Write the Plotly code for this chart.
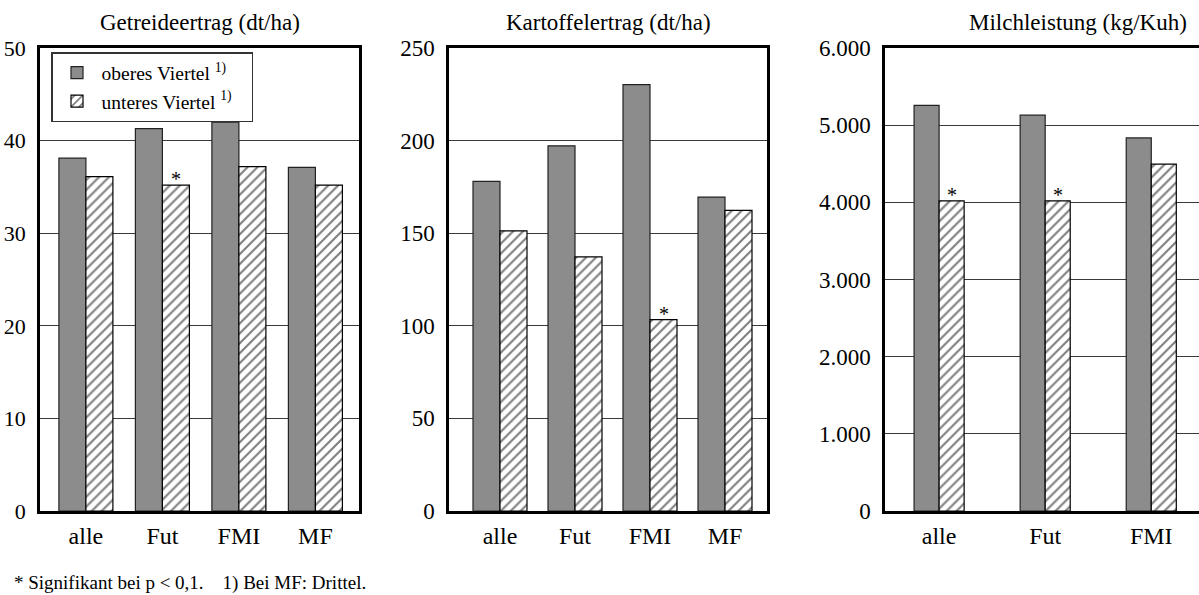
import plotly.graph_objects as go

# ---------------- data ----------------
categories = ["alle", "Fut", "FMI", "MF"]
milch_categories = ["alle", "Fut", "FMI"]

getreide_oben = [38.1, 41.3, 42.0, 37.1]
getreide_unten = [36.1, 35.2, 37.2, 35.2]
getreide_sig = ["", "*", "", ""]

kartoffel_oben = [178, 197.2, 230.2, 169.5]
kartoffel_unten = [151.3, 137.2, 103.3, 162.3]
kartoffel_sig = ["", "", "*", ""]

milch_oben = [5257, 5130, 4835]
milch_unten = [4020, 4020, 4494]
milch_sig = ["*", "*", ""]

titles = ["Getreideertrag (dt/ha)", "Kartoffelertrag (dt/ha)", "Milchleistung (kg/Kuh)"]
legend_names = ["oberes Viertel\u00a0<sup>1)</sup>\u00a0\u00a0\u00a0",
                "unteres Viertel\u00a0<sup>1)</sup>\u00a0\u00a0\u00a0"]
footnote = "* Signifikant bei p &lt; 0,1.\u00a0\u00a0\u00a0 1) Bei MF: Drittel."

# ---------------- layout helpers ----------------
W, H = 1199, 595
FONT = "Liberation Serif, Times New Roman, serif"
DARK = "#8c8c8c"
EDGE = "#222222"


def fx(p):
    return p / W


def fy(p):
    return 1 - p / H


panels = [
    dict(cats=categories, oben=getreide_oben, unten=getreide_unten, sig=getreide_sig,
         xdom=(40, 359), xr=(-0.60, 3.57), w=0.353, yr=(0, 50), dtick=10,
         mirror_y=True, tfmt="", title=titles[0], tx=199.5, yfs=22),
    dict(cats=categories, oben=kartoffel_oben, unten=kartoffel_unten, sig=kartoffel_sig,
         xdom=(449, 767), xr=(-0.68, 3.56), w=0.36, yr=(0, 250), dtick=50,
         mirror_y=True, tfmt="", title=titles[1], tx=608, yfs=23),
    dict(cats=milch_categories, oben=milch_oben, unten=milch_unten, sig=milch_sig,
         xdom=(885, 1199), xr=(-0.51, 2.45), w=0.236, yr=(0, 6000), dtick=1000,
         mirror_y=False, tfmt=",d", title=titles[2], tx=1078, yfs=23),
]

fig = go.Figure()
ydom = [fy(511), fy(48)]

for i, p in enumerate(panels):
    n = "" if i == 0 else str(i + 1)
    xa, ya = "x" + n, "y" + n
    w = p["w"]
    fig.add_trace(go.Bar(
        x=p["cats"], y=p["oben"], xaxis=xa, yaxis=ya,
        width=w, offset=-w, name=legend_names[0], showlegend=(i == 0),
        legendgroup="oben",
        marker=dict(color=DARK, line=dict(color=EDGE, width=1.2)),
    ))
    fig.add_trace(go.Bar(
        x=p["cats"], y=p["unten"], xaxis=xa, yaxis=ya,
        width=w, offset=0, name=legend_names[1], showlegend=(i == 0),
        legendgroup="unten",
        marker=dict(color="white", line=dict(color="black", width=1.2),
                    pattern=dict(shape="/", fgcolor="black", bgcolor="white",
                                 size=7, solidity=0.3)),
    ))
    # significance asterisks above the hatched bars
    for k, s in enumerate(p["sig"]):
        if s:
            fig.add_annotation(x=k + w / 2, y=p["unten"][k], xref=xa, yref=ya,
                               text=s, showarrow=False, xanchor="center", yanchor="bottom",
                               yshift=-7, font=dict(family=FONT, size=20, color="black"))
    fig.update_layout(**{
        "xaxis" + n: dict(
            domain=[fx(p["xdom"][0]), fx(p["xdom"][1])], anchor=ya,
            type="category", categoryorder="array", categoryarray=p["cats"],
            range=list(p["xr"]), showgrid=False, zeroline=False,
            showline=True, linecolor="black", linewidth=3, mirror=True,
            ticks="", ticklabelstandoff=1, automargin=False,
            tickfont=dict(family=FONT, size=24, color="black"), fixedrange=True,
        ),
        "yaxis" + n: dict(
            domain=ydom, anchor=xa, range=list(p["yr"]), dtick=p["dtick"], tick0=0,
            tickformat=p["tfmt"], showgrid=True, gridcolor="#3a3a3a", gridwidth=1,
            zeroline=False, showline=True, linecolor="black", linewidth=2.5,
            mirror=p["mirror_y"], ticks="", ticklabelstandoff=7, automargin=False,
            tickfont=dict(family=FONT, size=p["yfs"], color="black"), fixedrange=True,
        ),
    })
    fig.add_annotation(x=fx(p["tx"]), y=fy(23), xref="paper", yref="paper",
                       text=p["title"], showarrow=False, xanchor="center", yanchor="middle",
                       font=dict(family=FONT, size=23, color="black"))

fig.add_annotation(x=fx(12), y=fy(583), xref="paper", yref="paper", text=footnote,
                   showarrow=False, xanchor="left", yanchor="middle",
                   font=dict(family=FONT, size=19, color="black"))

fig.update_layout(
    width=W, height=H, margin=dict(l=0, r=0, t=0, b=0, autoexpand=False),
    paper_bgcolor="white", plot_bgcolor="white",
    barmode="overlay", separators=",.",
    font=dict(family=FONT, color="black"),
    legend=dict(x=fx(51), y=fy(52), xanchor="left", yanchor="top",
                bgcolor="white", bordercolor="#333333", borderwidth=1.5,
                font=dict(family=FONT, size=19.5, color="black"),
                itemwidth=39, tracegroupgap=0, traceorder="normal"),
)

fig.write_html("out.html")
